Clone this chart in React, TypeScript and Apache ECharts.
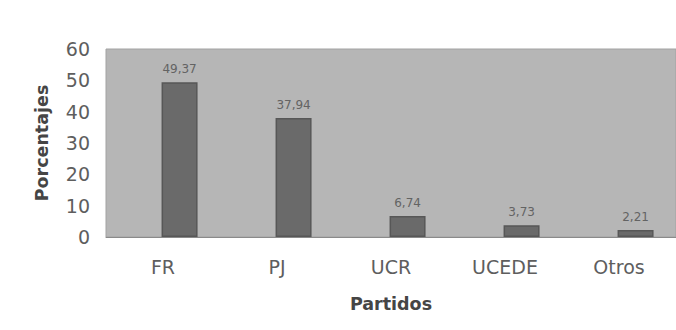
import React, { useEffect, useRef } from "react";
import * as echarts from "echarts";

const categories: string[] = ["FR", "PJ", "UCR", "UCEDE", "Otros"];
const values: number[] = [49.37, 37.94, 6.74, 3.73, 2.21];
const yTicks: number[] = [0, 10, 20, 30, 40, 50, 60];
const xTitle = "Partidos";
const yTitle = "Porcentajes";

const FONT = "DejaVu Sans";

export default function App() {
  const ref = useRef<HTMLDivElement>(null);
  useEffect(() => {
    if (!ref.current) return;
    const chart = echarts.init(ref.current, undefined, { renderer: "svg" });
    const option: any = {
      animation: false,
      backgroundColor: "#ffffff",
      textStyle: { fontFamily: FONT },
      grid: {
        left: 106,
        top: 49,
        bottom: 93,
        width: 578,
        show: true,
        backgroundColor: "#b6b6b6",
        borderColor: "#a2a2a2",
        borderWidth: 1,
        containLabel: false,
      },
      xAxis: {
        type: "category",
        data: categories,
        boundaryGap: true,
        axisLine: { show: true, lineStyle: { color: "#8a8a8a", width: 1 } },
        axisTick: { show: false },
        axisLabel: {
          margin: 20,
          fontSize: 19,
          color: "#5e5e5e",
          fontFamily: FONT,
        },
        name: xTitle,
        nameLocation: "middle",
        nameGap: 58,
        nameTextStyle: {
          fontSize: 17.5,
          fontWeight: "bold",
          color: "#454545",
          fontFamily: FONT,
        },
      },
      yAxis: {
        type: "value",
        min: yTicks[0],
        max: yTicks[yTicks.length - 1],
        interval: yTicks[1] - yTicks[0],
        splitLine: { show: false },
        axisLine: { show: false },
        axisTick: { show: false },
        axisLabel: {
          margin: 16,
          fontSize: 19,
          color: "#5e5e5e",
          fontFamily: FONT,
        },
        name: yTitle,
        nameLocation: "middle",
        nameGap: 55,
        nameTextStyle: {
          fontSize: 17.5,
          fontWeight: "bold",
          color: "#454545",
          fontFamily: FONT,
        },
      },
      series: [
        {
          type: "bar",
          name: "spacer",
          data: categories.map(() => null),
          barWidth: 36,
          barGap: "-8%",
          itemStyle: { color: "transparent" },
          silent: true,
        },
        {
          type: "bar",
          name: yTitle,
          data: values,
          barWidth: 36,
          barGap: "-8%",
          itemStyle: {
            color: "#6a6a6a",
            borderColor: "#575757",
            borderWidth: 1.5,
          },
          label: {
            show: true,
            position: "top",
            distance: 7,
            fontSize: 12,
            color: "#636363",
            fontFamily: FONT,
            formatter: (p: any) => Number(p.value).toFixed(2).replace(".", ","),
          },
        },
      ],
    };
    chart.setOption(option);
    return () => chart.dispose();
  }, []);
  return (
    <div
      ref={ref}
      style={{ position: "absolute", left: 0, top: 0, width: 676, height: 330 }}
    />
  );
}
